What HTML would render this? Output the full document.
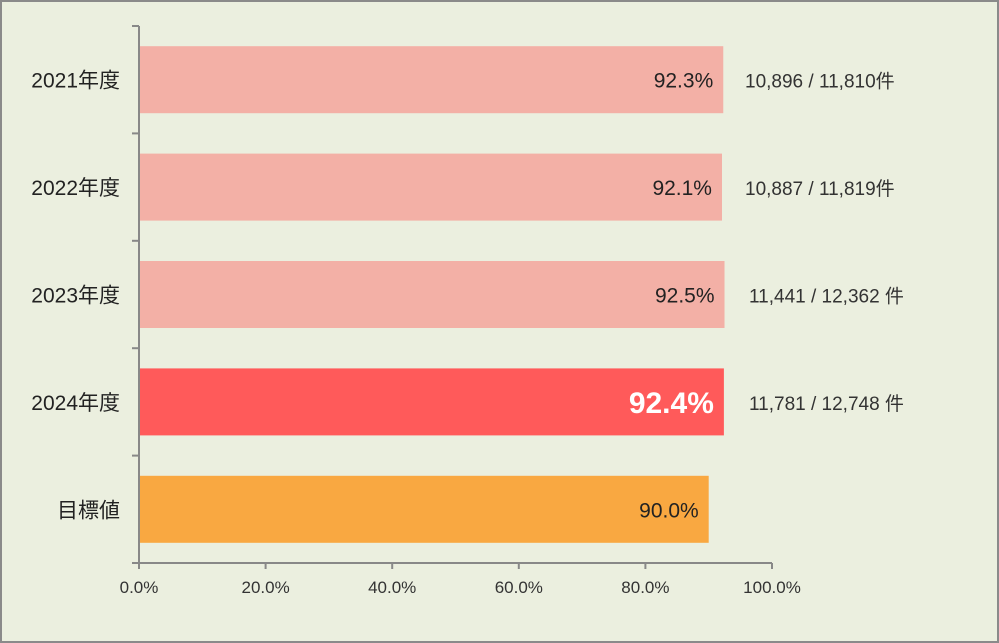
<!DOCTYPE html>
<html><head><meta charset="utf-8"><style>
body{margin:0;background:#fff}
#c{position:absolute;left:0;top:0;width:999px;height:643px;box-sizing:border-box;border:2px solid #8a8a8a;background:#ebefdf}
svg text{font-family:"Liberation Sans","Noto Sans CJK JP",sans-serif}
</style></head><body>
<div id="c">
<svg id="s" width="999" height="643" style="position:absolute;left:-2px;top:-2px"></svg>
</div>
<script>
const categories=["2021年度","2022年度","2023年度","2024年度","目標値"];
const values=[92.3,92.1,92.5,92.4,90.0];
const counts=["10,896 / 11,810件","10,887 / 11,819件","11,441 / 12,362 件","11,781 / 12,748 件",""];
const colors=["#f3b0a6","#f3b0a6","#f3b0a6","#ff5a5a","#f9a841"];
const ticks=[0,20,40,60,80,100];
const NS="http://www.w3.org/2000/svg";
const s=document.getElementById('s');
const x0=139,x1=772,y0=26,y1=563;
const xs=v=>x0+(x1-x0)*v/100;
const band=(y1-y0)/categories.length;
function mk(t,a,p){const e=document.createElementNS(NS,t);for(const k in a)e.setAttribute(k,a[k]);(p||s).appendChild(e);return e;}
categories.forEach((c,i)=>{
 const cy=y0+band*(i+0.5);
 const r=mk('rect',{x:x0,y:cy-33.5,width:xs(values[i])-x0,height:67,fill:colors[i]});
 
 
 const big=i===3;
 const t=mk('text',{x:xs(values[i])-10,y:cy+(big?11:8),'text-anchor':'end','font-size':big?30:21,fill:big?'#fff':'#222','font-weight':big?'bold':'normal'});
 t.textContent=values[i].toFixed(1)+'%';
 
 
 const l=mk('text',{x:120,y:cy+8,'text-anchor':'end','font-size':21,fill:'#222'});
 l.textContent=c;
 
 
 if(counts[i]){const n=mk('text',{x:i>=2?749:745,y:cy+8,'font-size':19,fill:'#333'});n.textContent=counts[i];
 
 }
});
for(let i=0;i<=categories.length;i++){const y=y0+band*i;mk('line',{x1:x0-7,x2:x0,y1:y,y2:y,stroke:'#888','stroke-width':2});}
mk('line',{x1:x0,x2:x0,y1:y0,y2:y1,stroke:'#888','stroke-width':2});
const xa=mk('line',{x1:x0-7,x2:x1,y1:y1,y2:y1,stroke:'#888','stroke-width':2});


ticks.forEach(v=>{mk('line',{x1:xs(v),x2:xs(v),y1:y1,y2:y1+6,stroke:'#888','stroke-width':2});
 const t=mk('text',{x:xs(v),y:y1+30,'text-anchor':'middle','font-size':17,fill:'#333'});t.textContent=v.toFixed(1)+'%';
 
 });
</script>
</body></html>
